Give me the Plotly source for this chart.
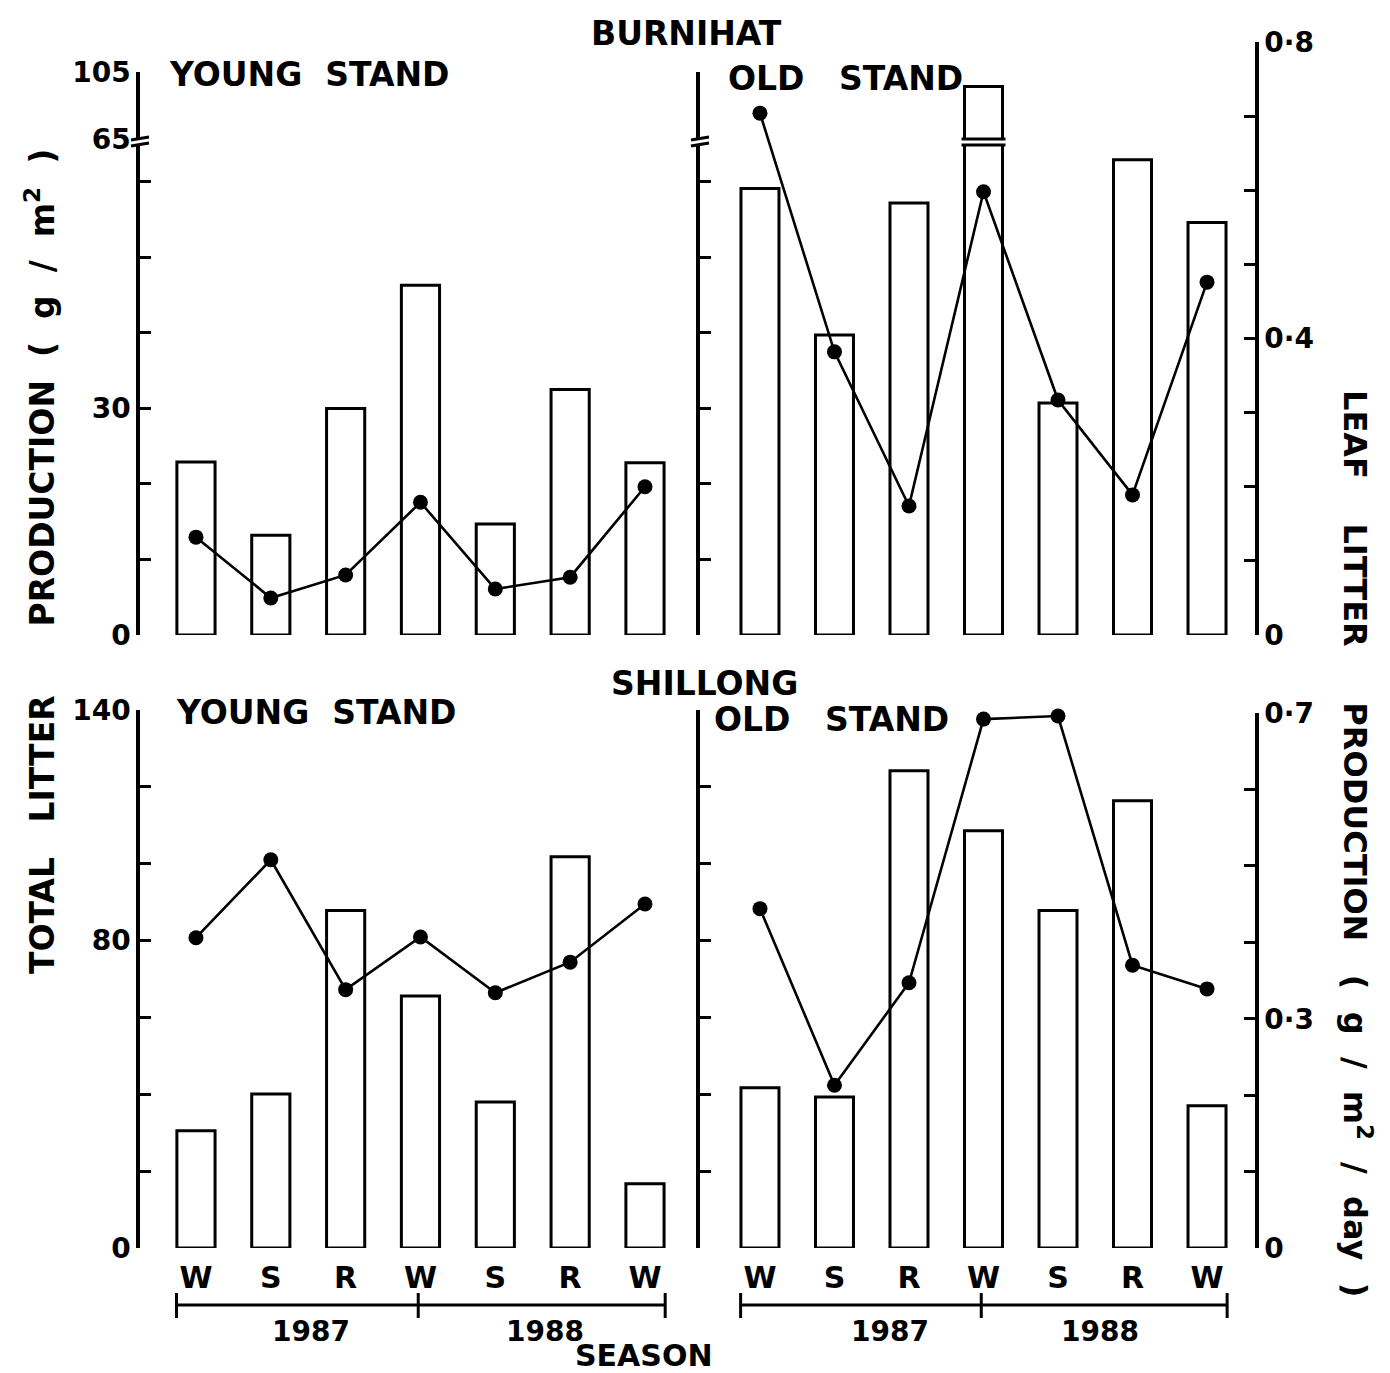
import plotly.graph_objects as go

# ---- data -------------------------------------------------------------
seasons = ["W", "S", "R", "W", "S", "R", "W"]
years = ["1987", "1988"]

# total litter production (g/m2), bars
burnihat_young_total = [22.9, 13.2, 30.0, 46.3, 14.7, 32.5, 22.8]
burnihat_old_total = [59.1, 39.7, 57.2, 96.3, 30.7, 62.9, 54.6]
shillong_young_total = [30.5, 40.1, 87.8, 65.6, 38.0, 101.8, 16.7]
shillong_old_total = [41.7, 39.3, 124.2, 108.6, 87.8, 116.4, 37.0]

# leaf litter production (g/m2/day), lines
burnihat_young_leaf = [0.132, 0.050, 0.081, 0.179, 0.062, 0.078, 0.200]
burnihat_old_leaf = [0.704, 0.382, 0.174, 0.598, 0.317, 0.189, 0.476]
shillong_young_leaf = [0.406, 0.508, 0.338, 0.407, 0.334, 0.374, 0.450]
shillong_old_leaf = [0.444, 0.213, 0.347, 0.692, 0.696, 0.370, 0.339]

# axis tick marks and labelled values
low_minor = [10, 20, 40, 50, 60]
low_major, low_text = [0, 30], ["0", "30"]
up_major, up_text = [65, 105], ["65", "105"]
leaf_top_minor = [0.1, 0.2, 0.3, 0.5, 0.6, 0.7]
leaf_top_major, leaf_top_text = [0, 0.4, 0.8], ["0", "0·4", "0·8"]
tot_minor = [20, 40, 60, 100, 120]
tot_major, tot_text = [0, 80, 140], ["0", "80", "140"]
leaf_bot_minor = [0.1, 0.2, 0.4, 0.5, 0.6]
leaf_bot_major, leaf_bot_text = [0, 0.3, 0.7], ["0", "0·3", "0·7"]

# ---- geometry helpers (pixel -> paper) ---------------------------------
W, H = 1390, 1373


def fx(p):
    return p / W


def fy(p):
    return 1 - p / H


FONT = "DejaVu Sans"
INK = "black"
pos = list(range(len(seasons)))
BAR_W = 0.51

fig = go.Figure()


def add_bars(vals, xa, ya):
    fig.add_trace(go.Bar(
        x=pos, y=vals, width=BAR_W, xaxis=xa, yaxis=ya,
        marker=dict(color="white", line=dict(color=INK, width=3)),
        showlegend=False, hoverinfo="skip"))


def add_line(vals, xa, ya):
    fig.add_trace(go.Scatter(
        x=pos, y=vals, xaxis=xa, yaxis=ya, mode="lines+markers",
        line=dict(color=INK, width=2.6),
        marker=dict(color=INK, size=15),
        cliponaxis=False, showlegend=False, hoverinfo="skip"))


# Burnihat: broken total-litter axis (0-65 below, 65-105 above)
add_bars(burnihat_young_total, "x", "y")
add_bars(burnihat_young_total, "x", "y2")
add_line(burnihat_young_leaf, "x", "y3")
add_bars(burnihat_old_total, "x2", "y4")
add_bars(burnihat_old_total, "x2", "y5")
add_line(burnihat_old_leaf, "x2", "y6")
# Shillong
add_bars(shillong_young_total, "x3", "y7")
add_line(shillong_young_leaf, "x3", "y8")
add_bars(shillong_old_total, "x4", "y9")
add_line(shillong_old_leaf, "x4", "y10")

tick_font = dict(family=FONT, size=28, color=INK, weight="bold")
season_font = dict(family=FONT, size=30, color=INK, weight="bold")

YOUNG_DOM = [fx(140), fx(680)]
OLD_DOM = [fx(700), fx(1255)]
YOUNG_RANGE = [-0.748, 6.468]
OLD_RANGE = [-0.805, 6.644]


def xaxis(dom, rng, anchor, labels):
    return dict(domain=dom, range=rng, anchor=anchor, showline=False,
                showgrid=False, zeroline=False, ticks="", automargin=False,
                tickvals=pos, ticktext=seasons, ticklabelstandoff=9,
                showticklabels=labels, tickfont=season_font)


def yaxis(dom, rng, anchor, major, text, minor=(), labels=True,
          side="left", visible=True):
    return dict(domain=dom, range=rng, anchor=anchor, side=side,
                visible=visible, showline=True, linecolor=INK, linewidth=3.5,
                showgrid=False, zeroline=False, ticks="inside", ticklen=11,
                tickwidth=3, tickcolor=INK, tickvals=major, ticktext=text,
                minor=dict(tickvals=list(minor), ticks="inside", ticklen=11,
                           tickwidth=3, tickcolor=INK, showgrid=False),
                automargin=False, showticklabels=labels, tickfont=tick_font)


LOW_DOM = [fy(635), fy(144)]
UP_DOM = [fy(139), fy(72)]
LEAF_TOP_DOM = [fy(635), fy(42)]
BOT_DOM = [fy(1248), fy(710)]
LEAF_BOT_DOM = [fy(1248), fy(713)]

fig.update_layout(
    width=W, height=H, margin=dict(l=0, r=0, t=0, b=0, pad=0),
    autosize=False,
    paper_bgcolor="white", plot_bgcolor="rgba(0,0,0,0)",
    barmode="overlay", font=dict(family=FONT, color=INK),
    xaxis=xaxis(YOUNG_DOM, YOUNG_RANGE, "y", False),
    xaxis2=xaxis(OLD_DOM, OLD_RANGE, "y4", False),
    xaxis3=xaxis(YOUNG_DOM, YOUNG_RANGE, "y7", True),
    xaxis4=xaxis(OLD_DOM, OLD_RANGE, "y9", True),
    yaxis=yaxis(LOW_DOM, [0, 65], "x", low_major, low_text, low_minor),
    yaxis2=yaxis(UP_DOM, [65, 105], "x", up_major, up_text),
    yaxis3=yaxis(LEAF_TOP_DOM, [0, 0.8], "x", [], [], visible=False),
    yaxis4=yaxis(LOW_DOM, [0, 65], "x2", low_major, low_text, low_minor,
                 labels=False),
    yaxis5=yaxis(UP_DOM, [65, 105], "x2", [105], ["105"], labels=False),
    yaxis6=yaxis(LEAF_TOP_DOM, [0, 0.8], "x2", leaf_top_major, leaf_top_text,
                 leaf_top_minor, side="right"),
    yaxis7=yaxis(BOT_DOM, [0, 140], "x3", tot_major, tot_text, tot_minor),
    yaxis8=yaxis(LEAF_BOT_DOM, [0, 0.7], "x3", [], [], visible=False),
    yaxis9=yaxis(BOT_DOM, [0, 140], "x4", tot_major, tot_text, tot_minor,
                 labels=False),
    yaxis10=yaxis(LEAF_BOT_DOM, [0, 0.7], "x4", leaf_bot_major,
                  leaf_bot_text, leaf_bot_minor, side="right"),
)

shapes = []


def pline(x0, y0, x1, y1, w=2.5, xref="paper"):
    shapes.append(dict(type="line", xref=xref, yref="paper",
                       x0=x0, y0=y0, x1=x1, y1=y1,
                       line=dict(color=INK, width=w)))


# axis-break marks on the Burnihat total-litter axes
for ax in (140, 700):
    pline(fx(ax - 9), fy(140), fx(ax + 9), fy(137), w=3)
    pline(fx(ax - 9), fy(146), fx(ax + 9), fy(143), w=3)

# the broken tall bar in the old stand: double bar at the break
for i, v in enumerate(burnihat_old_total):
    if v > 65:
        for yy in (139, 145):
            pline(i - BAR_W / 2 - 0.04, fy(yy), i + BAR_W / 2 + 0.04, fy(yy),
                  w=3, xref="x2")

# year brackets under the Shillong panels
for xr in ("x3", "x4"):
    left, mid, right = -0.26, 2.97, 6.27
    pline(left, fy(1305), right, fy(1305), w=3, xref=xr)
    for xv in (left, mid, right):
        pline(xv, fy(1293), xv, fy(1318), w=3, xref=xr)

fig.update_layout(shapes=shapes)

ann = []


def text(s, x, y, size=33, xanchor="center", angle=0, xref="paper"):
    ann.append(dict(text=s, x=x, y=y, xref=xref, yref="paper",
                    xanchor=xanchor, yanchor="middle", showarrow=False,
                    textangle=angle,
                    font=dict(family=FONT, size=size, color=INK,
                              weight="bold")))


text("BURNIHAT", fx(686), fy(34))
text("SHILLONG", fx(704), fy(684))
text("YOUNG  STAND", fx(167), fy(75), xanchor="left")
text("OLD   STAND", fx(726), fy(78), xanchor="left")
text("YOUNG  STAND", fx(174), fy(712), xanchor="left")
text("OLD   STAND", fx(712), fy(719), xanchor="left")

for xr, (c87, c88) in (("x3", (1.54, 4.66)), ("x4", (1.745, 4.56))):
    text(years[0], c87, fy(1331), size=28, xref=xr)
    text(years[1], c88, fy(1331), size=28, xref=xr)
text("SEASON", fx(644), fy(1355), size=30)

text("TOTAL   LITTER      PRODUCTION  (  g  /  m<sup>2</sup>  )",
     fx(40), fy(562), size=33, angle=-90)
text("LEAF    LITTER     PRODUCTION   (  g  /  m<sup>2</sup>  /  day  )",
     fx(1357), fy(843), size=32, angle=90)

fig.update_layout(annotations=ann)

fig.write_html("out.html")
